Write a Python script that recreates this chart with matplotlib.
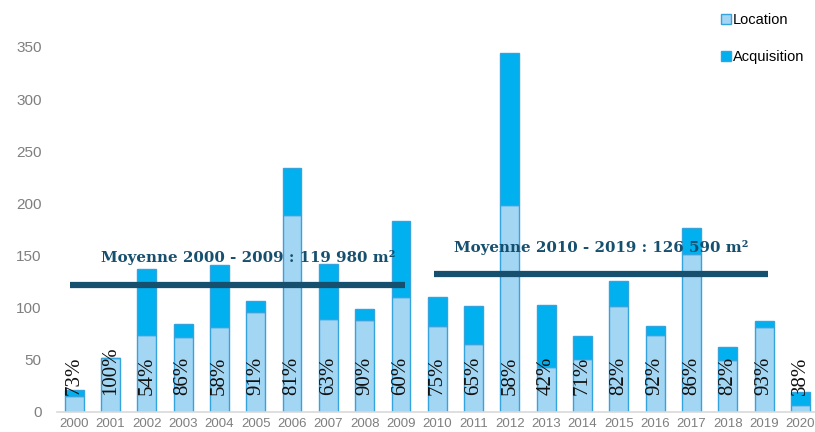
import matplotlib.pyplot as plt
import numpy as np

# surfaces in milliers de m2
years = [str(y) for y in range(2000, 2021)]
location = [15, 52, 74, 72, 81, 96, 189, 89, 88, 110,
            82, 65, 198, 43, 51, 102, 74, 151, 50, 81, 7]
acquisition = [6, 0, 63, 12, 60, 10, 45, 53, 11, 73,
               28, 37, 146, 60, 22, 24, 8, 25, 12, 6, 12]
pct_labels = ["73%", "100%", "54%", "86%", "58%", "91%", "81%", "63%", "90%", "60%",
              "75%", "65%", "58%", "42%", "71%", "82%", "92%", "86%", "82%", "93%", "38%"]

# period averages (as drawn)
avg_texts = ["Moyenne 2000 - 2009 : 119 980 m²", "Moyenne 2010 - 2019 : 126 590 m²"]
avg_values = [121.5, 132]
avg_spans = [(-0.1, 9.1), (9.9, 19.1)]
avg_text_pos = [(4.8, 148.5), (14.5, 158)]

fig = plt.figure(figsize=(8.15, 4.32), dpi=100)
ax = fig.add_axes([0.07, 0.0463, 0.93, 0.8935])

x = np.arange(len(years))
ax.bar(x, location, width=0.52, color="#a3d6f3", edgecolor="#35a3dc", linewidth=1.0,
       label="Location", zorder=2)
ax.bar(x, acquisition, width=0.52, bottom=location, color="#00b0ef", edgecolor="#35a3dc",
       linewidth=1.0, label="Acquisition", zorder=2)

for i, lab in enumerate(pct_labels):
    ax.text(x[i], 16, lab, rotation=90, ha="center", va="bottom",
            family="Liberation Serif", fontsize=15, color="#111111", zorder=4)

for txt, val, (a, b), (tx, ty) in zip(avg_texts, avg_values, avg_spans, avg_text_pos):
    ax.plot([a, b], [val, val], color="#17506f", linewidth=4.5, solid_capstyle="butt", zorder=3)
    ax.text(tx, ty, txt, ha="center", va="center",
            family="DejaVu Serif", fontweight="bold", fontsize=10.8, color="#17506f", zorder=5)

ax.set_xlim(-0.47, 20.4)
ax.set_ylim(0, 370)
ax.set_yticks(range(0, 351, 50))
ax.set_xticks(x)
ax.set_xticklabels(years)
ax.tick_params(axis="y", length=0, labelsize=11, colors="#7f7f7f", pad=11)
ax.tick_params(axis="x", length=0, labelsize=9.5, colors="#7f7f7f", pad=4)
for lbl in ax.get_yticklabels() + ax.get_xticklabels():
    lbl.set_family("Liberation Sans")

for s in ["top", "right", "left"]:
    ax.spines[s].set_visible(False)
ax.spines["bottom"].set_color("#d9d9d9")
ax.spines["bottom"].set_linewidth(1.2)

leg = fig.legend(loc="upper left", bbox_to_anchor=(0.868, 1.0), frameon=False,
                 prop={"family": "Liberation Sans", "size": 10.5},
                 handlelength=0.7, handleheight=0.7, handletextpad=0.15, labelspacing=1.55)

fig.savefig("out.png", dpi=100)
